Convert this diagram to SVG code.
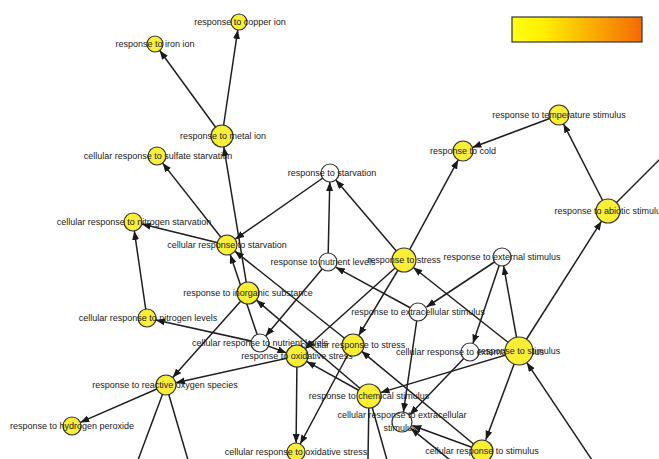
<svg xmlns="http://www.w3.org/2000/svg" width="659" height="459" viewBox="0 0 659 459">
<defs>
<linearGradient id="lg" x1="0" y1="0" x2="1" y2="0">
<stop offset="0" stop-color="#ffff10"/>
<stop offset="0.25" stop-color="#ffee00"/>
<stop offset="1" stop-color="#f56a00"/>
</linearGradient>
<marker id="ah" markerUnits="userSpaceOnUse" markerWidth="10" markerHeight="8" refX="9" refY="3.5" orient="auto">
<path d="M0,0 L9,3.5 L0,7 z" fill="#1a1a1a"/>
</marker>
</defs>
<style>
.e{stroke:#1f1f1f;stroke-width:1.5;fill:none}
.a{marker-end:url(#ah)}
.y{fill:#fbef33;stroke:#333;stroke-width:1.2}
.w{fill:#fff;stroke:#333;stroke-width:1.2}
text{font-family:"Liberation Sans",Arial,sans-serif;font-size:9px;fill:#1a1a1a;text-anchor:middle}
</style>
<rect width="659" height="459" fill="#fff"/>
<rect x="512" y="17" width="130" height="25" fill="url(#lg)" stroke="#333" stroke-width="1.2"/>
<g id="edges">
<line class="e a" x1="222" y1="136" x2="237.8" y2="29.9"/>
<line class="e a" x1="222" y1="136" x2="159.7" y2="50.5"/>
<line class="e a" x1="248" y1="293" x2="223.8" y2="146.9"/>
<line class="e a" x1="227" y1="245" x2="162.6" y2="163.1"/>
<line class="e a" x1="227" y1="245" x2="141.7" y2="224.1"/>
<line class="e a" x1="330" y1="173" x2="235.2" y2="239.2"/>
<line class="e a" x1="260" y1="343" x2="230.2" y2="254.5"/>
<line class="e a" x1="353" y1="345" x2="234.9" y2="251.2"/>
<line class="e a" x1="404" y1="260" x2="335.8" y2="179.9"/>
<line class="e a" x1="404" y1="260" x2="458.2" y2="159.8"/>
<line class="e a" x1="404" y1="260" x2="305.2" y2="348.7"/>
<line class="e a" x1="404" y1="260" x2="358.7" y2="335.6"/>
<line class="e a" x1="353" y1="345" x2="300.2" y2="444"/>
<line class="e a" x1="559" y1="115" x2="472.4" y2="147.5"/>
<line class="e a" x1="608" y1="211" x2="563.5" y2="123.9"/>
<line class="e" x1="608" y1="211" x2="661" y2="158"/>
<line class="e a" x1="519" y1="351" x2="601.5" y2="221.2"/>
<line class="e a" x1="519" y1="351" x2="503.6" y2="265.9"/>
<line class="e a" x1="519" y1="351" x2="413.4" y2="267.5"/>
<line class="e a" x1="519" y1="351" x2="380.5" y2="392.6"/>
<line class="e a" x1="519" y1="351" x2="485.8" y2="439.7"/>
<line class="e a" x1="592" y1="460" x2="526.8" y2="362.6"/>
<line class="e a" x1="502" y1="257" x2="426.5" y2="307"/>
<line class="e a" x1="502" y1="257" x2="472.9" y2="343.5"/>
<line class="e a" x1="470" y1="352" x2="409.8" y2="414.7"/>
<line class="e a" x1="418" y1="312" x2="403.4" y2="412.1"/>
<line class="e a" x1="418" y1="312" x2="335.9" y2="267.3"/>
<line class="e a" x1="328" y1="262" x2="329.8" y2="182"/>
<line class="e a" x1="328" y1="262" x2="265.7" y2="336.1"/>
<line class="e a" x1="260" y1="343" x2="155.8" y2="320"/>
<line class="e a" x1="147" y1="318" x2="134.3" y2="230.9"/>
<line class="e a" x1="248" y1="293" x2="172.7" y2="377.5"/>
<line class="e a" x1="297" y1="356" x2="175.8" y2="382.8"/>
<line class="e a" x1="166" y1="385" x2="80.2" y2="422.4"/>
<line class="e" x1="166" y1="385" x2="138" y2="460"/>
<line class="e" x1="166" y1="385" x2="188" y2="460"/>
<line class="e a" x1="297" y1="356" x2="296.1" y2="443"/>
<line class="e a" x1="369" y1="396" x2="256.4" y2="300.1"/>
<line class="e a" x1="369" y1="396" x2="306.6" y2="361.4"/>
<line class="e a" x1="260" y1="343" x2="286.5" y2="352.9"/>
<line class="e a" x1="482" y1="451" x2="361.4" y2="351.1"/>
<line class="e a" x1="482" y1="451" x2="412.3" y2="425.5"/>
<line class="e a" x1="450" y1="460" x2="410.8" y2="428.3"/>
<line class="e" x1="369" y1="396" x2="368" y2="460"/>
<line class="e" x1="369" y1="396" x2="387" y2="460"/>
</g>
<g id="n-copper"><circle class="y" cx="239" cy="22" r="8"/><text x="240" y="25">response to copper ion</text></g>
<g id="n-iron"><circle class="y" cx="155" cy="44" r="8"/><text x="155" y="47">response to iron ion</text></g>
<g id="n-metal"><circle class="y" cx="222" cy="136" r="11"/><text x="223" y="139">response to metal ion</text></g>
<g id="n-sulfate"><circle class="y" cx="157" cy="156" r="9"/><text x="158" y="159">cellular response to sulfate starvation</text></g>
<g id="n-starvation"><circle class="w" cx="330" cy="173" r="9"/><text x="332" y="176">response to starvation</text></g>
<g id="n-temperature"><circle class="y" cx="559" cy="115" r="10"/><text x="559" y="118">response to temperature stimulus</text></g>
<g id="n-cold"><circle class="y" cx="463" cy="151" r="10"/><text x="463" y="154">response to cold</text></g>
<g id="n-abiotic"><circle class="y" cx="608" cy="211" r="12"/><text x="610" y="214">response to abiotic stimulus</text></g>
<g id="n-nitrostarv"><circle class="y" cx="133" cy="222" r="9"/><text x="134" y="225">cellular response to nitrogen starvation</text></g>
<g id="n-cellstarv"><circle class="y" cx="227" cy="245" r="10"/><text x="227" y="248">cellular response to starvation</text></g>
<g id="n-nutrient"><circle class="w" cx="328" cy="262" r="9"/><text x="323" y="265">response to nutrient levels</text></g>
<g id="n-stress"><circle class="y" cx="404" cy="260" r="12"/><text x="404" y="263">response to stress</text></g>
<g id="n-external"><circle class="w" cx="502" cy="257" r="9"/><text x="502" y="260">response to external stimulus</text></g>
<g id="n-inorganic"><circle class="y" cx="248" cy="293" r="11"/><text x="248" y="296">response to inorganic substance</text></g>
<g id="n-nitrolevels"><circle class="y" cx="147" cy="318" r="9"/><text x="148" y="321">cellular response to nitrogen levels</text></g>
<g id="n-extracellular"><circle class="w" cx="418" cy="312" r="9"/><text x="418" y="315">response to extracellular stimulus</text></g>
<g id="n-cellnutrient"><circle class="w" cx="260" cy="343" r="9"/><text x="260" y="346">cellular response to nutrient levels</text></g>
<g id="n-oxidative"><circle class="y" cx="297" cy="356" r="11"/><text x="297" y="359">response to oxidative stress</text></g>
<g id="n-cellstress"><circle class="y" cx="353" cy="345" r="11"/><text x="353" y="348">cellular response to stress</text></g>
<g id="n-cellexternal"><circle class="w" cx="470" cy="352" r="9"/><text x="470" y="355">cellular response to external stimulus</text></g>
<g id="n-stimulus"><circle class="y" cx="519" cy="351" r="14"/><text x="519" y="354">response to stimulus</text></g>
<g id="n-ros"><circle class="y" cx="166" cy="385" r="10"/><text x="165" y="388">response to reactive oxygen species</text></g>
<g id="n-chemical"><circle class="y" cx="369" cy="396" r="12"/><text x="369" y="399">response to chemical stimulus</text></g>
<g id="n-cellextracellular"><circle class="w" cx="402" cy="422" r="10"/><text x="402" y="418">cellular response to extracellular</text><text x="400" y="431">stimulus</text></g>
<g id="n-h2o2"><circle class="y" cx="72" cy="426" r="9"/><text x="72" y="429">response to hydrogen peroxide</text></g>
<g id="n-celloxidative"><circle class="y" cx="296" cy="452" r="9"/><text x="296" y="455">cellular response to oxidative stress</text></g>
<g id="n-cellstimulus"><circle class="y" cx="482" cy="451" r="11"/><text x="482" y="454">cellular response to stimulus</text></g>
</svg>
